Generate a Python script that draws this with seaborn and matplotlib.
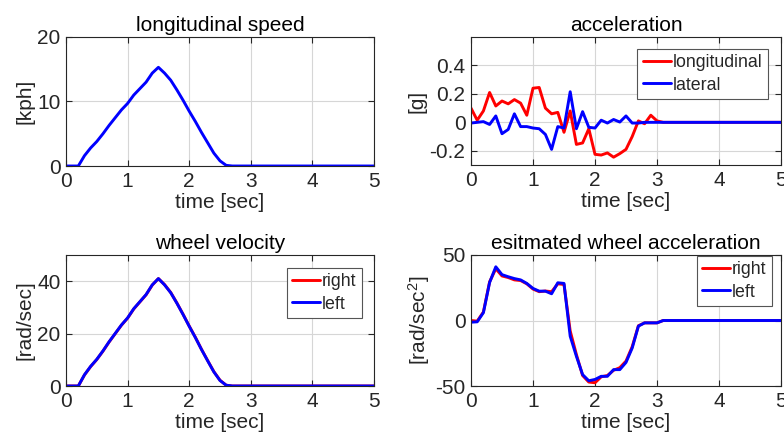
import numpy as np
import pandas as pd
import matplotlib
matplotlib.use("Agg")
import matplotlib.pyplot as plt
import seaborn as sns

# time axis [sec]
time = np.round(np.arange(0, 5.05, 0.1), 1)

# longitudinal speed [kph]
speed = [0, 0, 0, 1.6, 2.8, 3.8, 5.0, 6.3, 7.5, 8.7, 9.7, 11.0, 12.0, 13.0, 14.4, 15.3,
         14.4, 13.3, 11.8, 10.2, 8.5, 6.9, 5.2, 3.6, 2.0, 0.8, 0.1, 0,
         0, 0, 0, 0, 0, 0, 0, 0, 0, 0, 0, 0, 0, 0, 0, 0, 0, 0, 0, 0, 0, 0, 0]

# acceleration [g]
acc_long = [0.10, 0.015, 0.08, 0.21, 0.115, 0.15, 0.13, 0.16, 0.135, 0.05, 0.24, 0.245,
            0.10, 0.06, 0.07, -0.07, 0.08, -0.155, -0.145, -0.045, -0.225, -0.23, -0.215,
            -0.245, -0.22, -0.19, -0.10, 0.01, -0.01, 0.05, 0.01, 0,
            0, 0, 0, 0, 0, 0, 0, 0, 0, 0, 0, 0, 0, 0, 0, 0, 0, 0, 0]
acc_lat = [-0.005, 0, 0.005, -0.015, 0.045, -0.08, -0.05, 0.06, -0.03, -0.03, -0.04, -0.045,
           -0.085, -0.19, -0.03, -0.04, 0.215, -0.045, 0.075, -0.035, -0.04, 0.015, -0.005,
           0.02, 0.002, 0.045, -0.005, -0.005, 0, 0, 0, 0,
           0, 0, 0, 0, 0, 0, 0, 0, 0, 0, 0, 0, 0, 0, 0, 0, 0, 0, 0]

# wheel velocity [rad/sec]
wv_right = [0, 0, 0, 4.2, 7.4, 10.1, 13.3, 16.8, 20.0, 23.2, 25.9, 29.4, 32.1, 34.8, 38.5, 41.0,
            38.7, 35.7, 31.7, 27.4, 22.9, 18.6, 14.0, 9.7, 5.5, 2.2, 0.3, 0,
            0, 0, 0, 0, 0, 0, 0, 0, 0, 0, 0, 0, 0, 0, 0, 0, 0, 0, 0, 0, 0, 0, 0]
wv_left = [0, 0, 0, 4.3, 7.5, 10.2, 13.4, 16.9, 20.1, 23.3, 26.0, 29.5, 32.2, 34.9, 38.6, 41.0,
           38.6, 35.6, 31.6, 27.3, 22.8, 18.5, 13.9, 9.6, 5.4, 2.1, 0.3, 0,
           0, 0, 0, 0, 0, 0, 0, 0, 0, 0, 0, 0, 0, 0, 0, 0, 0, 0, 0, 0, 0, 0, 0]

# estimated wheel acceleration [rad/sec^2]
wa_right = [0, -0.5, 6.5, 29.5, 39.5, 34.0, 32.8, 31.0, 30.5, 28.0, 24.0, 22.0, 22.5, 22.0,
            28.0, 27.5, -8.0, -26.0, -42.0, -47.0, -47.5, -43.0, -42.0, -38.0, -36.0, -31.0,
            -20.0, -4.0, -1.8, -1.8, -1.8, 0,
            0, 0, 0, 0, 0, 0, 0, 0, 0, 0, 0, 0, 0, 0, 0, 0, 0, 0, 0]
wa_left = [-1.3, -1.0, 6.0, 29.0, 41.0, 35.0, 33.4, 32.0, 31.0, 28.3, 24.5, 22.4, 22.4, 20.4,
           28.8, 28.3, -12.0, -27.3, -41.3, -46.0, -45.0, -42.6, -42.6, -37.5, -37.5, -32.0,
           -21.0, -4.3, -1.8, -1.8, -1.8, 0,
           0, 0, 0, 0, 0, 0, 0, 0, 0, 0, 0, 0, 0, 0, 0, 0, 0, 0, 0]

sns.set_theme(style="ticks")
plt.rcParams["font.family"] = ["Liberation Sans", "DejaVu Sans"]
plt.rcParams["axes.unicode_minus"] = False
plt.rcParams["mathtext.default"] = "regular"

fs = 15
dark = "#262626"

fig = plt.figure(figsize=(7.84, 4.46), dpi=100)
W, H = 784, 446


def make_ax(x0, y0, x1, y1):
    return fig.add_axes([x0 / W, 1 - y1 / H, (x1 - x0) / W, (y1 - y0) / H])


ax1 = make_ax(66, 37, 374, 166)
ax2 = make_ax(471, 37, 781, 165)
ax3 = make_ax(66, 255, 374, 386)
ax4 = make_ax(471, 255, 781, 386)

lw = 2.1
sns.lineplot(x=time, y=speed, ax=ax1, color="blue", lw=lw)
sns.lineplot(x=time, y=acc_long, ax=ax2, color="red", lw=lw, label="longitudinal")
sns.lineplot(x=time, y=acc_lat, ax=ax2, color="blue", lw=lw, label="lateral")
sns.lineplot(x=time, y=wv_right, ax=ax3, color="red", lw=lw, label="right")
sns.lineplot(x=time, y=wv_left, ax=ax3, color="blue", lw=lw, label="left")
sns.lineplot(x=time, y=wa_right, ax=ax4, color="red", lw=lw, label="right")
sns.lineplot(x=time, y=wa_left, ax=ax4, color="blue", lw=lw, label="left")

settings = [
    (ax1, "longitudinal speed", "[kph]", (0, 20), [0, 10, 20], ["0", "10", "20"]),
    (ax2, "acceleration", "[g]", (-0.3, 0.6), [-0.2, 0, 0.2, 0.4], ["-0.2", "0", "0.2", "0.4"]),
    (ax3, "wheel velocity", "[rad/sec]", (0, 50), [0, 20, 40], ["0", "20", "40"]),
    (ax4, "esitmated wheel acceleration", "[rad/sec$^{2}$]", (-50, 50), [-50, 0, 50], ["-50", "0", "50"]),
]

for ax, title, ylabel, ylim, yt, ytl in settings:
    ax.set_xlim(0, 5)
    ax.set_ylim(*ylim)
    ax.set_xticks([0, 1, 2, 3, 4, 5])
    ax.set_xticklabels(["0", "1", "2", "3", "4", "5"])
    ax.set_yticks(yt)
    ax.set_yticklabels(ytl)
    ax.set_title(title, fontsize=fs, color="black", pad=4)
    ax.set_xlabel("time [sec]", fontsize=fs, color=dark, labelpad=2)
    ax.set_ylabel(ylabel, fontsize=fs, color=dark, labelpad=2)
    ax.grid(True, color="#d6d6d6", lw=0.8)
    ax.set_axisbelow(True)
    ax.tick_params(direction="in", length=4, width=0.8, top=True, right=True,
                   labelsize=fs, colors=dark, pad=4)
    for s in ax.spines.values():
        s.set_visible(True)
        s.set_color(dark)
        s.set_linewidth(0.8)

leg_kw = dict(fontsize=12.8, frameon=True, fancybox=False, framealpha=1,
              edgecolor="#555555", handlelength=1.6, handletextpad=0.1,
              labelspacing=0.3, borderpad=0.3, borderaxespad=0, loc="upper right")
ax2.legend(bbox_to_anchor=(0.958, 0.906), **leg_kw)
ax3.legend(bbox_to_anchor=(0.961, 0.901), **leg_kw)
ax4.legend(bbox_to_anchor=(0.971, 0.992), **leg_kw)
for ax in (ax2, ax3, ax4):
    ax.get_legend().get_frame().set_linewidth(0.8)

fig.savefig("out.png", dpi=100)
